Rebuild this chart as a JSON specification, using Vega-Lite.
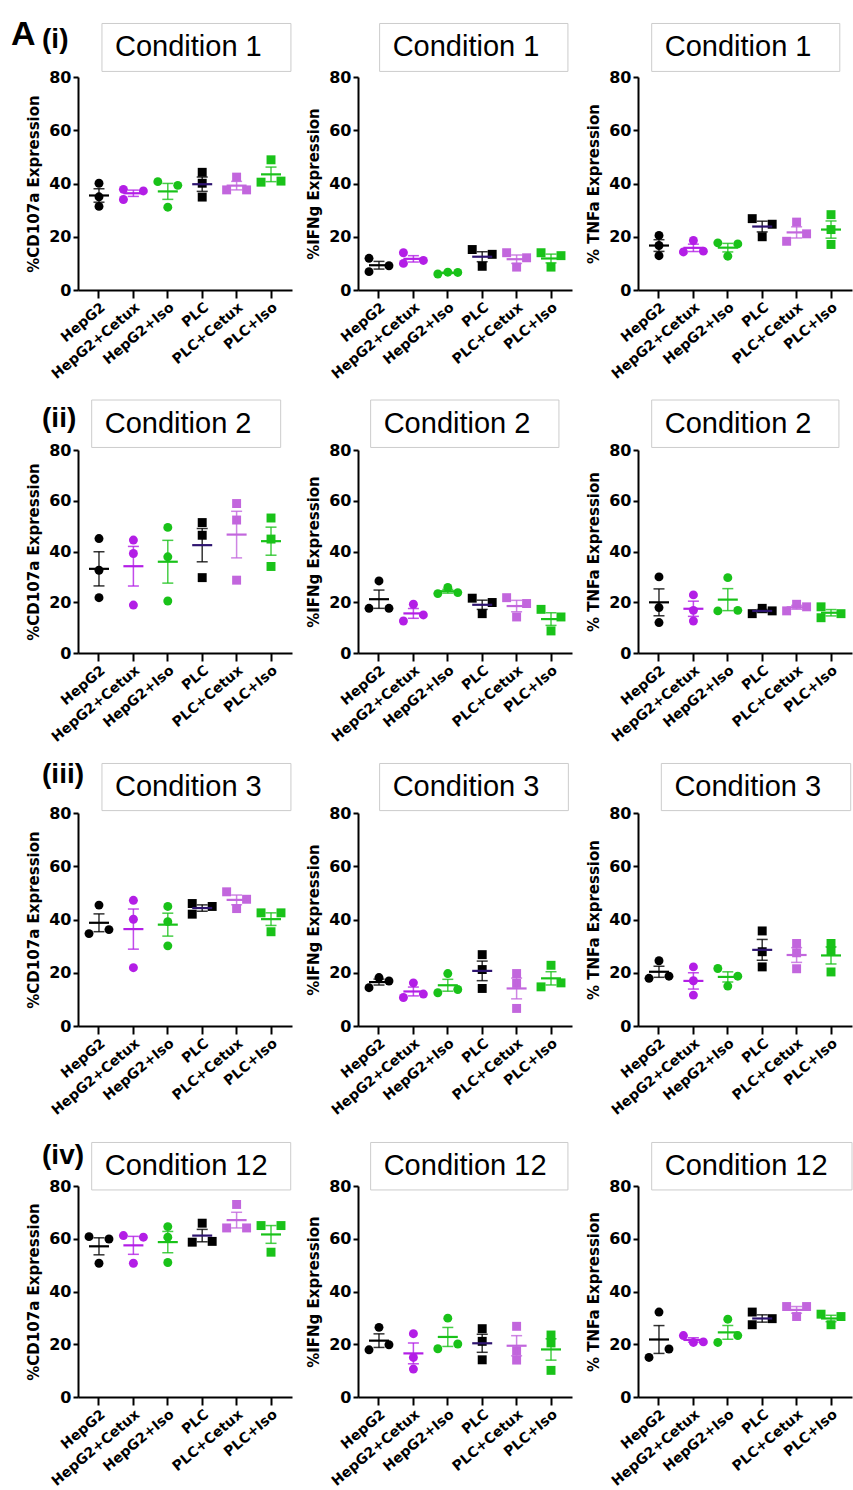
{
"$schema": "https://vega.github.io/schema/vega-lite/v6.json",
"background": "white",
"padding": {"left": 11, "top": 17, "right": 0, "bottom": 0},
"columns": 3,
"bounds": "flush",
"align": "each",
"spacing": {"row": 160, "column": 66},
"datasets": {"pts": [
{"c":"Condition 1","m":"CD107a","g":"HepG2","r":"b","v":40.1},
{"c":"Condition 1","m":"CD107a","g":"HepG2","r":"b","v":35.0},
{"c":"Condition 1","m":"CD107a","g":"HepG2","r":"b","v":31.4},
{"c":"Condition 1","m":"CD107a","g":"HepG2+Cetux","r":"a","v":37.8},
{"c":"Condition 1","m":"CD107a","g":"HepG2+Cetux","r":"a","v":34.0},
{"c":"Condition 1","m":"CD107a","g":"HepG2+Cetux","r":"c","v":37.2},
{"c":"Condition 1","m":"CD107a","g":"HepG2+Iso","r":"a","v":40.7},
{"c":"Condition 1","m":"CD107a","g":"HepG2+Iso","r":"c","v":39.3},
{"c":"Condition 1","m":"CD107a","g":"HepG2+Iso","r":"b","v":31.1},
{"c":"Condition 1","m":"CD107a","g":"PLC","r":"b","v":44.2},
{"c":"Condition 1","m":"CD107a","g":"PLC","r":"b","v":40.1},
{"c":"Condition 1","m":"CD107a","g":"PLC","r":"b","v":34.9},
{"c":"Condition 1","m":"CD107a","g":"PLC+Cetux","r":"b","v":42.4},
{"c":"Condition 1","m":"CD107a","g":"PLC+Cetux","r":"a","v":37.6},
{"c":"Condition 1","m":"CD107a","g":"PLC+Cetux","r":"c","v":37.6},
{"c":"Condition 1","m":"CD107a","g":"PLC+Iso","r":"b","v":48.9},
{"c":"Condition 1","m":"CD107a","g":"PLC+Iso","r":"a","v":40.5},
{"c":"Condition 1","m":"CD107a","g":"PLC+Iso","r":"c","v":40.9},
{"c":"Condition 1","m":"IFNg","g":"HepG2","r":"a","v":11.9},
{"c":"Condition 1","m":"IFNg","g":"HepG2","r":"a","v":6.9},
{"c":"Condition 1","m":"IFNg","g":"HepG2","r":"c","v":9.1},
{"c":"Condition 1","m":"IFNg","g":"HepG2+Cetux","r":"a","v":14.0},
{"c":"Condition 1","m":"IFNg","g":"HepG2+Cetux","r":"a","v":10.0},
{"c":"Condition 1","m":"IFNg","g":"HepG2+Cetux","r":"c","v":11.1},
{"c":"Condition 1","m":"IFNg","g":"HepG2+Iso","r":"a","v":6.0},
{"c":"Condition 1","m":"IFNg","g":"HepG2+Iso","r":"b","v":6.7},
{"c":"Condition 1","m":"IFNg","g":"HepG2+Iso","r":"c","v":6.6},
{"c":"Condition 1","m":"IFNg","g":"PLC","r":"a","v":15.2},
{"c":"Condition 1","m":"IFNg","g":"PLC","r":"c","v":13.4},
{"c":"Condition 1","m":"IFNg","g":"PLC","r":"b","v":8.9},
{"c":"Condition 1","m":"IFNg","g":"PLC+Cetux","r":"a","v":14.0},
{"c":"Condition 1","m":"IFNg","g":"PLC+Cetux","r":"c","v":12.1},
{"c":"Condition 1","m":"IFNg","g":"PLC+Cetux","r":"b","v":8.6},
{"c":"Condition 1","m":"IFNg","g":"PLC+Iso","r":"a","v":14.0},
{"c":"Condition 1","m":"IFNg","g":"PLC+Iso","r":"c","v":12.9},
{"c":"Condition 1","m":"IFNg","g":"PLC+Iso","r":"b","v":8.6},
{"c":"Condition 1","m":"TNFa","g":"HepG2","r":"b","v":20.5},
{"c":"Condition 1","m":"TNFa","g":"HepG2","r":"b","v":16.7},
{"c":"Condition 1","m":"TNFa","g":"HepG2","r":"b","v":12.9},
{"c":"Condition 1","m":"TNFa","g":"HepG2+Cetux","r":"b","v":18.6},
{"c":"Condition 1","m":"TNFa","g":"HepG2+Cetux","r":"a","v":14.3},
{"c":"Condition 1","m":"TNFa","g":"HepG2+Cetux","r":"c","v":14.6},
{"c":"Condition 1","m":"TNFa","g":"HepG2+Iso","r":"a","v":17.7},
{"c":"Condition 1","m":"TNFa","g":"HepG2+Iso","r":"c","v":17.3},
{"c":"Condition 1","m":"TNFa","g":"HepG2+Iso","r":"b","v":12.7},
{"c":"Condition 1","m":"TNFa","g":"PLC","r":"a","v":26.8},
{"c":"Condition 1","m":"TNFa","g":"PLC","r":"c","v":24.7},
{"c":"Condition 1","m":"TNFa","g":"PLC","r":"b","v":20.0},
{"c":"Condition 1","m":"TNFa","g":"PLC+Cetux","r":"b","v":25.5},
{"c":"Condition 1","m":"TNFa","g":"PLC+Cetux","r":"a","v":18.3},
{"c":"Condition 1","m":"TNFa","g":"PLC+Cetux","r":"c","v":21.1},
{"c":"Condition 1","m":"TNFa","g":"PLC+Iso","r":"b","v":28.3},
{"c":"Condition 1","m":"TNFa","g":"PLC+Iso","r":"b","v":22.7},
{"c":"Condition 1","m":"TNFa","g":"PLC+Iso","r":"b","v":17.1},
{"c":"Condition 2","m":"CD107a","g":"HepG2","r":"b","v":45.1},
{"c":"Condition 2","m":"CD107a","g":"HepG2","r":"b","v":32.6},
{"c":"Condition 2","m":"CD107a","g":"HepG2","r":"b","v":21.8},
{"c":"Condition 2","m":"CD107a","g":"HepG2+Cetux","r":"b","v":44.5},
{"c":"Condition 2","m":"CD107a","g":"HepG2+Cetux","r":"b","v":39.2},
{"c":"Condition 2","m":"CD107a","g":"HepG2+Cetux","r":"b","v":18.9},
{"c":"Condition 2","m":"CD107a","g":"HepG2+Iso","r":"b","v":49.5},
{"c":"Condition 2","m":"CD107a","g":"HepG2+Iso","r":"b","v":37.9},
{"c":"Condition 2","m":"CD107a","g":"HepG2+Iso","r":"b","v":20.5},
{"c":"Condition 2","m":"CD107a","g":"PLC","r":"b","v":51.4},
{"c":"Condition 2","m":"CD107a","g":"PLC","r":"b","v":46.4},
{"c":"Condition 2","m":"CD107a","g":"PLC","r":"b","v":29.7},
{"c":"Condition 2","m":"CD107a","g":"PLC+Cetux","r":"b","v":58.9},
{"c":"Condition 2","m":"CD107a","g":"PLC+Cetux","r":"b","v":52.4},
{"c":"Condition 2","m":"CD107a","g":"PLC+Cetux","r":"b","v":28.7},
{"c":"Condition 2","m":"CD107a","g":"PLC+Iso","r":"b","v":53.2},
{"c":"Condition 2","m":"CD107a","g":"PLC+Iso","r":"b","v":44.9},
{"c":"Condition 2","m":"CD107a","g":"PLC+Iso","r":"b","v":34.1},
{"c":"Condition 2","m":"IFNg","g":"HepG2","r":"b","v":28.4},
{"c":"Condition 2","m":"IFNg","g":"HepG2","r":"a","v":17.6},
{"c":"Condition 2","m":"IFNg","g":"HepG2","r":"c","v":17.6},
{"c":"Condition 2","m":"IFNg","g":"HepG2+Cetux","r":"b","v":19.2},
{"c":"Condition 2","m":"IFNg","g":"HepG2+Cetux","r":"a","v":12.6},
{"c":"Condition 2","m":"IFNg","g":"HepG2+Cetux","r":"c","v":15.0},
{"c":"Condition 2","m":"IFNg","g":"HepG2+Iso","r":"a","v":23.4},
{"c":"Condition 2","m":"IFNg","g":"HepG2+Iso","r":"b","v":25.8},
{"c":"Condition 2","m":"IFNg","g":"HepG2+Iso","r":"c","v":23.8},
{"c":"Condition 2","m":"IFNg","g":"PLC","r":"a","v":21.6},
{"c":"Condition 2","m":"IFNg","g":"PLC","r":"c","v":19.9},
{"c":"Condition 2","m":"IFNg","g":"PLC","r":"b","v":15.5},
{"c":"Condition 2","m":"IFNg","g":"PLC+Cetux","r":"a","v":21.8},
{"c":"Condition 2","m":"IFNg","g":"PLC+Cetux","r":"c","v":19.5},
{"c":"Condition 2","m":"IFNg","g":"PLC+Cetux","r":"b","v":14.2},
{"c":"Condition 2","m":"IFNg","g":"PLC+Iso","r":"a","v":17.2},
{"c":"Condition 2","m":"IFNg","g":"PLC+Iso","r":"c","v":14.2},
{"c":"Condition 2","m":"IFNg","g":"PLC+Iso","r":"b","v":8.7},
{"c":"Condition 2","m":"TNFa","g":"HepG2","r":"b","v":30.0},
{"c":"Condition 2","m":"TNFa","g":"HepG2","r":"b","v":17.9},
{"c":"Condition 2","m":"TNFa","g":"HepG2","r":"b","v":12.0},
{"c":"Condition 2","m":"TNFa","g":"HepG2+Cetux","r":"b","v":22.9},
{"c":"Condition 2","m":"TNFa","g":"HepG2+Cetux","r":"b","v":16.8},
{"c":"Condition 2","m":"TNFa","g":"HepG2+Cetux","r":"b","v":12.6},
{"c":"Condition 2","m":"TNFa","g":"HepG2+Iso","r":"b","v":29.7},
{"c":"Condition 2","m":"TNFa","g":"HepG2+Iso","r":"a","v":16.6},
{"c":"Condition 2","m":"TNFa","g":"HepG2+Iso","r":"c","v":16.8},
{"c":"Condition 2","m":"TNFa","g":"PLC","r":"a","v":15.5},
{"c":"Condition 2","m":"TNFa","g":"PLC","r":"b","v":17.6},
{"c":"Condition 2","m":"TNFa","g":"PLC","r":"c","v":16.6},
{"c":"Condition 2","m":"TNFa","g":"PLC+Cetux","r":"a","v":16.6},
{"c":"Condition 2","m":"TNFa","g":"PLC+Cetux","r":"b","v":19.2},
{"c":"Condition 2","m":"TNFa","g":"PLC+Cetux","r":"c","v":18.2},
{"c":"Condition 2","m":"TNFa","g":"PLC+Iso","r":"a","v":18.2},
{"c":"Condition 2","m":"TNFa","g":"PLC+Iso","r":"a","v":13.9},
{"c":"Condition 2","m":"TNFa","g":"PLC+Iso","r":"c","v":15.5},
{"c":"Condition 3","m":"CD107a","g":"HepG2","r":"b","v":45.4},
{"c":"Condition 3","m":"CD107a","g":"HepG2","r":"a","v":34.7},
{"c":"Condition 3","m":"CD107a","g":"HepG2","r":"c","v":36.2},
{"c":"Condition 3","m":"CD107a","g":"HepG2+Cetux","r":"b","v":47.2},
{"c":"Condition 3","m":"CD107a","g":"HepG2+Cetux","r":"b","v":40.1},
{"c":"Condition 3","m":"CD107a","g":"HepG2+Cetux","r":"b","v":21.9},
{"c":"Condition 3","m":"CD107a","g":"HepG2+Iso","r":"b","v":44.9},
{"c":"Condition 3","m":"CD107a","g":"HepG2+Iso","r":"b","v":39.2},
{"c":"Condition 3","m":"CD107a","g":"HepG2+Iso","r":"b","v":30.1},
{"c":"Condition 3","m":"CD107a","g":"PLC","r":"a","v":46.0},
{"c":"Condition 3","m":"CD107a","g":"PLC","r":"a","v":42.0},
{"c":"Condition 3","m":"CD107a","g":"PLC","r":"c","v":44.9},
{"c":"Condition 3","m":"CD107a","g":"PLC+Cetux","r":"a","v":50.4},
{"c":"Condition 3","m":"CD107a","g":"PLC+Cetux","r":"c","v":47.6},
{"c":"Condition 3","m":"CD107a","g":"PLC+Cetux","r":"b","v":44.1},
{"c":"Condition 3","m":"CD107a","g":"PLC+Iso","r":"a","v":42.5},
{"c":"Condition 3","m":"CD107a","g":"PLC+Iso","r":"c","v":42.5},
{"c":"Condition 3","m":"CD107a","g":"PLC+Iso","r":"b","v":35.4},
{"c":"Condition 3","m":"IFNg","g":"HepG2","r":"a","v":14.4},
{"c":"Condition 3","m":"IFNg","g":"HepG2","r":"b","v":18.2},
{"c":"Condition 3","m":"IFNg","g":"HepG2","r":"c","v":16.9},
{"c":"Condition 3","m":"IFNg","g":"HepG2+Cetux","r":"b","v":16.2},
{"c":"Condition 3","m":"IFNg","g":"HepG2+Cetux","r":"a","v":10.7},
{"c":"Condition 3","m":"IFNg","g":"HepG2+Cetux","r":"c","v":12.0},
{"c":"Condition 3","m":"IFNg","g":"HepG2+Iso","r":"b","v":19.7},
{"c":"Condition 3","m":"IFNg","g":"HepG2+Iso","r":"a","v":12.5},
{"c":"Condition 3","m":"IFNg","g":"HepG2+Iso","r":"c","v":13.7},
{"c":"Condition 3","m":"IFNg","g":"PLC","r":"b","v":26.8},
{"c":"Condition 3","m":"IFNg","g":"PLC","r":"b","v":21.2},
{"c":"Condition 3","m":"IFNg","g":"PLC","r":"b","v":14.1},
{"c":"Condition 3","m":"IFNg","g":"PLC+Cetux","r":"b","v":19.7},
{"c":"Condition 3","m":"IFNg","g":"PLC+Cetux","r":"b","v":16.0},
{"c":"Condition 3","m":"IFNg","g":"PLC+Cetux","r":"b","v":6.6},
{"c":"Condition 3","m":"IFNg","g":"PLC+Iso","r":"b","v":22.8},
{"c":"Condition 3","m":"IFNg","g":"PLC+Iso","r":"a","v":14.7},
{"c":"Condition 3","m":"IFNg","g":"PLC+Iso","r":"c","v":16.2},
{"c":"Condition 3","m":"TNFa","g":"HepG2","r":"b","v":24.5},
{"c":"Condition 3","m":"TNFa","g":"HepG2","r":"a","v":17.9},
{"c":"Condition 3","m":"TNFa","g":"HepG2","r":"c","v":18.7},
{"c":"Condition 3","m":"TNFa","g":"HepG2+Cetux","r":"b","v":22.2},
{"c":"Condition 3","m":"TNFa","g":"HepG2+Cetux","r":"b","v":17.0},
{"c":"Condition 3","m":"TNFa","g":"HepG2+Cetux","r":"b","v":11.6},
{"c":"Condition 3","m":"TNFa","g":"HepG2+Iso","r":"a","v":21.6},
{"c":"Condition 3","m":"TNFa","g":"HepG2+Iso","r":"c","v":18.7},
{"c":"Condition 3","m":"TNFa","g":"HepG2+Iso","r":"b","v":15.0},
{"c":"Condition 3","m":"TNFa","g":"PLC","r":"b","v":35.7},
{"c":"Condition 3","m":"TNFa","g":"PLC","r":"b","v":27.9},
{"c":"Condition 3","m":"TNFa","g":"PLC","r":"b","v":22.2},
{"c":"Condition 3","m":"TNFa","g":"PLC+Cetux","r":"b","v":31.0},
{"c":"Condition 3","m":"TNFa","g":"PLC+Cetux","r":"b","v":27.5},
{"c":"Condition 3","m":"TNFa","g":"PLC+Cetux","r":"b","v":21.5},
{"c":"Condition 3","m":"TNFa","g":"PLC+Iso","r":"b","v":31.0},
{"c":"Condition 3","m":"TNFa","g":"PLC+Iso","r":"b","v":28.2},
{"c":"Condition 3","m":"TNFa","g":"PLC+Iso","r":"b","v":20.3},
{"c":"Condition 12","m":"CD107a","g":"HepG2","r":"a","v":60.8},
{"c":"Condition 12","m":"CD107a","g":"HepG2","r":"c","v":59.9},
{"c":"Condition 12","m":"CD107a","g":"HepG2","r":"b","v":50.7},
{"c":"Condition 12","m":"CD107a","g":"HepG2+Cetux","r":"a","v":61.2},
{"c":"Condition 12","m":"CD107a","g":"HepG2+Cetux","r":"c","v":60.6},
{"c":"Condition 12","m":"CD107a","g":"HepG2+Cetux","r":"b","v":50.7},
{"c":"Condition 12","m":"CD107a","g":"HepG2+Iso","r":"b","v":64.6},
{"c":"Condition 12","m":"CD107a","g":"HepG2+Iso","r":"b","v":60.6},
{"c":"Condition 12","m":"CD107a","g":"HepG2+Iso","r":"b","v":51.0},
{"c":"Condition 12","m":"CD107a","g":"PLC","r":"b","v":65.9},
{"c":"Condition 12","m":"CD107a","g":"PLC","r":"a","v":58.7},
{"c":"Condition 12","m":"CD107a","g":"PLC","r":"c","v":59.0},
{"c":"Condition 12","m":"CD107a","g":"PLC+Cetux","r":"b","v":73.0},
{"c":"Condition 12","m":"CD107a","g":"PLC+Cetux","r":"a","v":64.1},
{"c":"Condition 12","m":"CD107a","g":"PLC+Cetux","r":"c","v":64.1},
{"c":"Condition 12","m":"CD107a","g":"PLC+Iso","r":"a","v":65.0},
{"c":"Condition 12","m":"CD107a","g":"PLC+Iso","r":"c","v":65.0},
{"c":"Condition 12","m":"CD107a","g":"PLC+Iso","r":"b","v":54.9},
{"c":"Condition 12","m":"IFNg","g":"HepG2","r":"b","v":26.4},
{"c":"Condition 12","m":"IFNg","g":"HepG2","r":"a","v":17.9},
{"c":"Condition 12","m":"IFNg","g":"HepG2","r":"c","v":19.8},
{"c":"Condition 12","m":"IFNg","g":"HepG2+Cetux","r":"b","v":24.0},
{"c":"Condition 12","m":"IFNg","g":"HepG2+Cetux","r":"b","v":15.0},
{"c":"Condition 12","m":"IFNg","g":"HepG2+Cetux","r":"b","v":10.6},
{"c":"Condition 12","m":"IFNg","g":"HepG2+Iso","r":"b","v":29.9},
{"c":"Condition 12","m":"IFNg","g":"HepG2+Iso","r":"a","v":18.3},
{"c":"Condition 12","m":"IFNg","g":"HepG2+Iso","r":"c","v":20.1},
{"c":"Condition 12","m":"IFNg","g":"PLC","r":"b","v":25.9},
{"c":"Condition 12","m":"IFNg","g":"PLC","r":"b","v":21.1},
{"c":"Condition 12","m":"IFNg","g":"PLC","r":"b","v":14.1},
{"c":"Condition 12","m":"IFNg","g":"PLC+Cetux","r":"b","v":26.8},
{"c":"Condition 12","m":"IFNg","g":"PLC+Cetux","r":"b","v":17.5},
{"c":"Condition 12","m":"IFNg","g":"PLC+Cetux","r":"b","v":14.0},
{"c":"Condition 12","m":"IFNg","g":"PLC+Iso","r":"b","v":23.5},
{"c":"Condition 12","m":"IFNg","g":"PLC+Iso","r":"b","v":20.5},
{"c":"Condition 12","m":"IFNg","g":"PLC+Iso","r":"b","v":10.1},
{"c":"Condition 12","m":"TNFa","g":"HepG2","r":"b","v":32.2},
{"c":"Condition 12","m":"TNFa","g":"HepG2","r":"c","v":18.2},
{"c":"Condition 12","m":"TNFa","g":"HepG2","r":"a","v":15.0},
{"c":"Condition 12","m":"TNFa","g":"HepG2+Cetux","r":"a","v":23.3},
{"c":"Condition 12","m":"TNFa","g":"HepG2+Cetux","r":"b","v":20.7},
{"c":"Condition 12","m":"TNFa","g":"HepG2+Cetux","r":"c","v":20.9},
{"c":"Condition 12","m":"TNFa","g":"HepG2+Iso","r":"b","v":29.5},
{"c":"Condition 12","m":"TNFa","g":"HepG2+Iso","r":"a","v":20.7},
{"c":"Condition 12","m":"TNFa","g":"HepG2+Iso","r":"c","v":23.3},
{"c":"Condition 12","m":"TNFa","g":"PLC","r":"a","v":32.2},
{"c":"Condition 12","m":"TNFa","g":"PLC","r":"a","v":27.4},
{"c":"Condition 12","m":"TNFa","g":"PLC","r":"c","v":29.7},
{"c":"Condition 12","m":"TNFa","g":"PLC+Cetux","r":"a","v":34.3},
{"c":"Condition 12","m":"TNFa","g":"PLC+Cetux","r":"c","v":34.3},
{"c":"Condition 12","m":"TNFa","g":"PLC+Cetux","r":"b","v":30.5},
{"c":"Condition 12","m":"TNFa","g":"PLC+Iso","r":"a","v":31.4},
{"c":"Condition 12","m":"TNFa","g":"PLC+Iso","r":"c","v":30.5},
{"c":"Condition 12","m":"TNFa","g":"PLC+Iso","r":"b","v":27.4}
]},
"concat": [
{"width":214,"height":213,"resolve":{"scale":{"x":"independent","y":"independent"}},"layer":[
 {"data":{"name":"pts"},"transform":[{"filter":"datum.c === 'Condition 1' && datum.m === 'CD107a'"}],
  "encoding":{"x":{"field":"g","type":"nominal","scale":{"type":"band","domain":["HepG2","HepG2+Cetux","HepG2+Iso","PLC","PLC+Cetux","PLC+Iso"],"paddingInner":0.42,"paddingOuter":0.32},"axis":{"title":null}},
   "y":{"field":"v","type":"quantitative","title":"%CD107a Expression","scale":{"domain":[0,80],"nice":false},"axis":{"values":[0,20,40,60,80]}}},
  "layer":[
   {"mark":{"type":"point","filled":true,"size":80,"opacity":1},"encoding":{"xOffset":{"field":"r","type":"nominal","scale":{"domain":["a","b","c"],"paddingInner":0,"paddingOuter":0}},"color":{"field":"g","type":"nominal","scale":{"domain":["HepG2","HepG2+Cetux","HepG2+Iso","PLC","PLC+Cetux","PLC+Iso"],"range":["#000000","#b31ee6","#19c219","#000000","#c266dd","#19c219"]},"legend":null},"shape":{"field":"g","type":"nominal","scale":{"domain":["HepG2","HepG2+Cetux","HepG2+Iso","PLC","PLC+Cetux","PLC+Iso"],"range":["circle","circle","circle","square","square","square"]},"legend":null}}},
   {"mark":{"type":"errorbar","extent":"stderr","ticks":true,"size":11,"thickness":1.5,"opacity":0.8},"encoding":{"color":{"field":"g","type":"nominal","scale":{"domain":["HepG2","HepG2+Cetux","HepG2+Iso","PLC","PLC+Cetux","PLC+Iso"],"range":["#000000","#b31ee6","#19c219","#000000","#c266dd","#19c219"]},"legend":null}}},
   {"mark":{"type":"tick","size":20,"thickness":2.2},"encoding":{"y":{"aggregate":"mean","field":"v","type":"quantitative","title":"%CD107a Expression","scale":{"domain":[0,80],"nice":false},"axis":{"values":[0,20,40,60,80]}},"color":{"condition":{"test":"datum.g === 'PLC'","value":"#2e1470"},"field":"g","type":"nominal","scale":{"domain":["HepG2","HepG2+Cetux","HepG2+Iso","PLC","PLC+Cetux","PLC+Iso"],"range":["#000000","#b31ee6","#19c219","#000000","#c266dd","#19c219"]},"legend":null}}}
  ]},
 {"data":{"values":[{"t":"Condition 1"}]},
  "encoding":{"x":{"datum":0.112,"type":"quantitative","scale":{"domain":[0,1],"nice":false,"zero":false},"axis":null},"y":{"datum":82.1,"type":"quantitative","scale":{"domain":[0,80],"nice":false,"zero":false},"axis":null}},
  "layer":[
   {"mark":{"type":"rect","fill":"#ffffff","stroke":"#cccccc","strokeWidth":1},"encoding":{"x2":{"datum":0.995},"y2":{"datum":100.1}}},
   {"mark":{"type":"text","font":"Liberation Sans","fontSize":29,"align":"left","baseline":"middle","color":"#000000"},"encoding":{"x":{"datum":0.173,"type":"quantitative","axis":null},"y":{"datum":91.1,"type":"quantitative","axis":null},"text":{"field":"t"}}},
   {"mark":{"type":"text","text":"A","font":"Liberation Sans","fontWeight":"bold","fontSize":34,"align":"left","baseline":"middle","color":"#000000"},"encoding":{"x":{"datum":-0.313,"type":"quantitative","axis":null},"y":{"datum":95.9,"type":"quantitative","axis":null}}},
   {"mark":{"type":"text","text":"(i)","font":"Liberation Sans","fontWeight":"bold","fontSize":28,"align":"left","baseline":"middle","color":"#000000"},"encoding":{"x":{"datum":-0.168,"type":"quantitative","axis":null},"y":{"datum":94,"type":"quantitative","axis":null}}}
  ]}
]},
{"width":214,"height":213,"resolve":{"scale":{"x":"independent","y":"independent"}},"layer":[
 {"data":{"name":"pts"},"transform":[{"filter":"datum.c === 'Condition 1' && datum.m === 'IFNg'"}],
  "encoding":{"x":{"field":"g","type":"nominal","scale":{"type":"band","domain":["HepG2","HepG2+Cetux","HepG2+Iso","PLC","PLC+Cetux","PLC+Iso"],"paddingInner":0.42,"paddingOuter":0.32},"axis":{"title":null}},
   "y":{"field":"v","type":"quantitative","title":"%IFNg Expression","scale":{"domain":[0,80],"nice":false},"axis":{"values":[0,20,40,60,80]}}},
  "layer":[
   {"mark":{"type":"point","filled":true,"size":80,"opacity":1},"encoding":{"xOffset":{"field":"r","type":"nominal","scale":{"domain":["a","b","c"],"paddingInner":0,"paddingOuter":0}},"color":{"field":"g","type":"nominal","scale":{"domain":["HepG2","HepG2+Cetux","HepG2+Iso","PLC","PLC+Cetux","PLC+Iso"],"range":["#000000","#b31ee6","#19c219","#000000","#c266dd","#19c219"]},"legend":null},"shape":{"field":"g","type":"nominal","scale":{"domain":["HepG2","HepG2+Cetux","HepG2+Iso","PLC","PLC+Cetux","PLC+Iso"],"range":["circle","circle","circle","square","square","square"]},"legend":null}}},
   {"mark":{"type":"errorbar","extent":"stderr","ticks":true,"size":11,"thickness":1.5,"opacity":0.8},"encoding":{"color":{"field":"g","type":"nominal","scale":{"domain":["HepG2","HepG2+Cetux","HepG2+Iso","PLC","PLC+Cetux","PLC+Iso"],"range":["#000000","#b31ee6","#19c219","#000000","#c266dd","#19c219"]},"legend":null}}},
   {"mark":{"type":"tick","size":20,"thickness":2.2},"encoding":{"y":{"aggregate":"mean","field":"v","type":"quantitative","title":"%IFNg Expression","scale":{"domain":[0,80],"nice":false},"axis":{"values":[0,20,40,60,80]}},"color":{"condition":{"test":"datum.g === 'PLC'","value":"#2e1470"},"field":"g","type":"nominal","scale":{"domain":["HepG2","HepG2+Cetux","HepG2+Iso","PLC","PLC+Cetux","PLC+Iso"],"range":["#000000","#b31ee6","#19c219","#000000","#c266dd","#19c219"]},"legend":null}}}
  ]},
 {"data":{"values":[{"t":"Condition 1"}]},
  "encoding":{"x":{"datum":0.101,"type":"quantitative","scale":{"domain":[0,1],"nice":false,"zero":false},"axis":null},"y":{"datum":82.1,"type":"quantitative","scale":{"domain":[0,80],"nice":false,"zero":false},"axis":null}},
  "layer":[
   {"mark":{"type":"rect","fill":"#ffffff","stroke":"#cccccc","strokeWidth":1},"encoding":{"x2":{"datum":0.981},"y2":{"datum":100.1}}},
   {"mark":{"type":"text","font":"Liberation Sans","fontSize":29,"align":"left","baseline":"middle","color":"#000000"},"encoding":{"x":{"datum":0.162,"type":"quantitative","axis":null},"y":{"datum":91.1,"type":"quantitative","axis":null},"text":{"field":"t"}}}
  ]}
]},
{"width":214,"height":213,"resolve":{"scale":{"x":"independent","y":"independent"}},"layer":[
 {"data":{"name":"pts"},"transform":[{"filter":"datum.c === 'Condition 1' && datum.m === 'TNFa'"}],
  "encoding":{"x":{"field":"g","type":"nominal","scale":{"type":"band","domain":["HepG2","HepG2+Cetux","HepG2+Iso","PLC","PLC+Cetux","PLC+Iso"],"paddingInner":0.42,"paddingOuter":0.32},"axis":{"title":null}},
   "y":{"field":"v","type":"quantitative","title":"% TNFa Expression","scale":{"domain":[0,80],"nice":false},"axis":{"values":[0,20,40,60,80]}}},
  "layer":[
   {"mark":{"type":"point","filled":true,"size":80,"opacity":1},"encoding":{"xOffset":{"field":"r","type":"nominal","scale":{"domain":["a","b","c"],"paddingInner":0,"paddingOuter":0}},"color":{"field":"g","type":"nominal","scale":{"domain":["HepG2","HepG2+Cetux","HepG2+Iso","PLC","PLC+Cetux","PLC+Iso"],"range":["#000000","#b31ee6","#19c219","#000000","#c266dd","#19c219"]},"legend":null},"shape":{"field":"g","type":"nominal","scale":{"domain":["HepG2","HepG2+Cetux","HepG2+Iso","PLC","PLC+Cetux","PLC+Iso"],"range":["circle","circle","circle","square","square","square"]},"legend":null}}},
   {"mark":{"type":"errorbar","extent":"stderr","ticks":true,"size":11,"thickness":1.5,"opacity":0.8},"encoding":{"color":{"field":"g","type":"nominal","scale":{"domain":["HepG2","HepG2+Cetux","HepG2+Iso","PLC","PLC+Cetux","PLC+Iso"],"range":["#000000","#b31ee6","#19c219","#000000","#c266dd","#19c219"]},"legend":null}}},
   {"mark":{"type":"tick","size":20,"thickness":2.2},"encoding":{"y":{"aggregate":"mean","field":"v","type":"quantitative","title":"% TNFa Expression","scale":{"domain":[0,80],"nice":false},"axis":{"values":[0,20,40,60,80]}},"color":{"condition":{"test":"datum.g === 'PLC'","value":"#2e1470"},"field":"g","type":"nominal","scale":{"domain":["HepG2","HepG2+Cetux","HepG2+Iso","PLC","PLC+Cetux","PLC+Iso"],"range":["#000000","#b31ee6","#19c219","#000000","#c266dd","#19c219"]},"legend":null}}}
  ]},
 {"data":{"values":[{"t":"Condition 1"}]},
  "encoding":{"x":{"datum":0.064,"type":"quantitative","scale":{"domain":[0,1],"nice":false,"zero":false},"axis":null},"y":{"datum":82.1,"type":"quantitative","scale":{"domain":[0,80],"nice":false,"zero":false},"axis":null}},
  "layer":[
   {"mark":{"type":"rect","fill":"#ffffff","stroke":"#cccccc","strokeWidth":1},"encoding":{"x2":{"datum":0.943},"y2":{"datum":100.1}}},
   {"mark":{"type":"text","font":"Liberation Sans","fontSize":29,"align":"left","baseline":"middle","color":"#000000"},"encoding":{"x":{"datum":0.125,"type":"quantitative","axis":null},"y":{"datum":91.1,"type":"quantitative","axis":null},"text":{"field":"t"}}}
  ]}
]},
{"width":214,"height":203,"resolve":{"scale":{"x":"independent","y":"independent"}},"layer":[
 {"data":{"name":"pts"},"transform":[{"filter":"datum.c === 'Condition 2' && datum.m === 'CD107a'"}],
  "encoding":{"x":{"field":"g","type":"nominal","scale":{"type":"band","domain":["HepG2","HepG2+Cetux","HepG2+Iso","PLC","PLC+Cetux","PLC+Iso"],"paddingInner":0.42,"paddingOuter":0.32},"axis":{"title":null}},
   "y":{"field":"v","type":"quantitative","title":"%CD107a Expression","scale":{"domain":[0,80],"nice":false},"axis":{"values":[0,20,40,60,80]}}},
  "layer":[
   {"mark":{"type":"point","filled":true,"size":80,"opacity":1},"encoding":{"xOffset":{"field":"r","type":"nominal","scale":{"domain":["a","b","c"],"paddingInner":0,"paddingOuter":0}},"color":{"field":"g","type":"nominal","scale":{"domain":["HepG2","HepG2+Cetux","HepG2+Iso","PLC","PLC+Cetux","PLC+Iso"],"range":["#000000","#b31ee6","#19c219","#000000","#c266dd","#19c219"]},"legend":null},"shape":{"field":"g","type":"nominal","scale":{"domain":["HepG2","HepG2+Cetux","HepG2+Iso","PLC","PLC+Cetux","PLC+Iso"],"range":["circle","circle","circle","square","square","square"]},"legend":null}}},
   {"mark":{"type":"errorbar","extent":"stderr","ticks":true,"size":11,"thickness":1.5,"opacity":0.8},"encoding":{"color":{"field":"g","type":"nominal","scale":{"domain":["HepG2","HepG2+Cetux","HepG2+Iso","PLC","PLC+Cetux","PLC+Iso"],"range":["#000000","#b31ee6","#19c219","#000000","#c266dd","#19c219"]},"legend":null}}},
   {"mark":{"type":"tick","size":20,"thickness":2.2},"encoding":{"y":{"aggregate":"mean","field":"v","type":"quantitative","title":"%CD107a Expression","scale":{"domain":[0,80],"nice":false},"axis":{"values":[0,20,40,60,80]}},"color":{"condition":{"test":"datum.g === 'PLC'","value":"#2e1470"},"field":"g","type":"nominal","scale":{"domain":["HepG2","HepG2+Cetux","HepG2+Iso","PLC","PLC+Cetux","PLC+Iso"],"range":["#000000","#b31ee6","#19c219","#000000","#c266dd","#19c219"]},"legend":null}}}
  ]},
 {"data":{"values":[{"t":"Condition 2"}]},
  "encoding":{"x":{"datum":0.064,"type":"quantitative","scale":{"domain":[0,1],"nice":false,"zero":false},"axis":null},"y":{"datum":81.0,"type":"quantitative","scale":{"domain":[0,80],"nice":false,"zero":false},"axis":null}},
  "layer":[
   {"mark":{"type":"rect","fill":"#ffffff","stroke":"#cccccc","strokeWidth":1},"encoding":{"x2":{"datum":0.947},"y2":{"datum":99.7}}},
   {"mark":{"type":"text","font":"Liberation Sans","fontSize":29,"align":"left","baseline":"middle","color":"#000000"},"encoding":{"x":{"datum":0.125,"type":"quantitative","axis":null},"y":{"datum":90.35,"type":"quantitative","axis":null},"text":{"field":"t"}}},
   {"mark":{"type":"text","text":"(ii)","font":"Liberation Sans","fontWeight":"bold","fontSize":28,"align":"left","baseline":"middle","color":"#000000"},"encoding":{"x":{"datum":-0.168,"type":"quantitative","axis":null},"y":{"datum":92.1,"type":"quantitative","axis":null}}}
  ]}
]},
{"width":214,"height":203,"resolve":{"scale":{"x":"independent","y":"independent"}},"layer":[
 {"data":{"name":"pts"},"transform":[{"filter":"datum.c === 'Condition 2' && datum.m === 'IFNg'"}],
  "encoding":{"x":{"field":"g","type":"nominal","scale":{"type":"band","domain":["HepG2","HepG2+Cetux","HepG2+Iso","PLC","PLC+Cetux","PLC+Iso"],"paddingInner":0.42,"paddingOuter":0.32},"axis":{"title":null}},
   "y":{"field":"v","type":"quantitative","title":"%IFNg Expression","scale":{"domain":[0,80],"nice":false},"axis":{"values":[0,20,40,60,80]}}},
  "layer":[
   {"mark":{"type":"point","filled":true,"size":80,"opacity":1},"encoding":{"xOffset":{"field":"r","type":"nominal","scale":{"domain":["a","b","c"],"paddingInner":0,"paddingOuter":0}},"color":{"field":"g","type":"nominal","scale":{"domain":["HepG2","HepG2+Cetux","HepG2+Iso","PLC","PLC+Cetux","PLC+Iso"],"range":["#000000","#b31ee6","#19c219","#000000","#c266dd","#19c219"]},"legend":null},"shape":{"field":"g","type":"nominal","scale":{"domain":["HepG2","HepG2+Cetux","HepG2+Iso","PLC","PLC+Cetux","PLC+Iso"],"range":["circle","circle","circle","square","square","square"]},"legend":null}}},
   {"mark":{"type":"errorbar","extent":"stderr","ticks":true,"size":11,"thickness":1.5,"opacity":0.8},"encoding":{"color":{"field":"g","type":"nominal","scale":{"domain":["HepG2","HepG2+Cetux","HepG2+Iso","PLC","PLC+Cetux","PLC+Iso"],"range":["#000000","#b31ee6","#19c219","#000000","#c266dd","#19c219"]},"legend":null}}},
   {"mark":{"type":"tick","size":20,"thickness":2.2},"encoding":{"y":{"aggregate":"mean","field":"v","type":"quantitative","title":"%IFNg Expression","scale":{"domain":[0,80],"nice":false},"axis":{"values":[0,20,40,60,80]}},"color":{"condition":{"test":"datum.g === 'PLC'","value":"#2e1470"},"field":"g","type":"nominal","scale":{"domain":["HepG2","HepG2+Cetux","HepG2+Iso","PLC","PLC+Cetux","PLC+Iso"],"range":["#000000","#b31ee6","#19c219","#000000","#c266dd","#19c219"]},"legend":null}}}
  ]},
 {"data":{"values":[{"t":"Condition 2"}]},
  "encoding":{"x":{"datum":0.059,"type":"quantitative","scale":{"domain":[0,1],"nice":false,"zero":false},"axis":null},"y":{"datum":81.0,"type":"quantitative","scale":{"domain":[0,80],"nice":false,"zero":false},"axis":null}},
  "layer":[
   {"mark":{"type":"rect","fill":"#ffffff","stroke":"#cccccc","strokeWidth":1},"encoding":{"x2":{"datum":0.939},"y2":{"datum":99.7}}},
   {"mark":{"type":"text","font":"Liberation Sans","fontSize":29,"align":"left","baseline":"middle","color":"#000000"},"encoding":{"x":{"datum":0.12,"type":"quantitative","axis":null},"y":{"datum":90.35,"type":"quantitative","axis":null},"text":{"field":"t"}}}
  ]}
]},
{"width":214,"height":203,"resolve":{"scale":{"x":"independent","y":"independent"}},"layer":[
 {"data":{"name":"pts"},"transform":[{"filter":"datum.c === 'Condition 2' && datum.m === 'TNFa'"}],
  "encoding":{"x":{"field":"g","type":"nominal","scale":{"type":"band","domain":["HepG2","HepG2+Cetux","HepG2+Iso","PLC","PLC+Cetux","PLC+Iso"],"paddingInner":0.42,"paddingOuter":0.32},"axis":{"title":null}},
   "y":{"field":"v","type":"quantitative","title":"% TNFa Expression","scale":{"domain":[0,80],"nice":false},"axis":{"values":[0,20,40,60,80]}}},
  "layer":[
   {"mark":{"type":"point","filled":true,"size":80,"opacity":1},"encoding":{"xOffset":{"field":"r","type":"nominal","scale":{"domain":["a","b","c"],"paddingInner":0,"paddingOuter":0}},"color":{"field":"g","type":"nominal","scale":{"domain":["HepG2","HepG2+Cetux","HepG2+Iso","PLC","PLC+Cetux","PLC+Iso"],"range":["#000000","#b31ee6","#19c219","#000000","#c266dd","#19c219"]},"legend":null},"shape":{"field":"g","type":"nominal","scale":{"domain":["HepG2","HepG2+Cetux","HepG2+Iso","PLC","PLC+Cetux","PLC+Iso"],"range":["circle","circle","circle","square","square","square"]},"legend":null}}},
   {"mark":{"type":"errorbar","extent":"stderr","ticks":true,"size":11,"thickness":1.5,"opacity":0.8},"encoding":{"color":{"field":"g","type":"nominal","scale":{"domain":["HepG2","HepG2+Cetux","HepG2+Iso","PLC","PLC+Cetux","PLC+Iso"],"range":["#000000","#b31ee6","#19c219","#000000","#c266dd","#19c219"]},"legend":null}}},
   {"mark":{"type":"tick","size":20,"thickness":2.2},"encoding":{"y":{"aggregate":"mean","field":"v","type":"quantitative","title":"% TNFa Expression","scale":{"domain":[0,80],"nice":false},"axis":{"values":[0,20,40,60,80]}},"color":{"condition":{"test":"datum.g === 'PLC'","value":"#2e1470"},"field":"g","type":"nominal","scale":{"domain":["HepG2","HepG2+Cetux","HepG2+Iso","PLC","PLC+Cetux","PLC+Iso"],"range":["#000000","#b31ee6","#19c219","#000000","#c266dd","#19c219"]},"legend":null}}}
  ]},
 {"data":{"values":[{"t":"Condition 2"}]},
  "encoding":{"x":{"datum":0.064,"type":"quantitative","scale":{"domain":[0,1],"nice":false,"zero":false},"axis":null},"y":{"datum":81.0,"type":"quantitative","scale":{"domain":[0,80],"nice":false,"zero":false},"axis":null}},
  "layer":[
   {"mark":{"type":"rect","fill":"#ffffff","stroke":"#cccccc","strokeWidth":1},"encoding":{"x2":{"datum":0.939},"y2":{"datum":99.7}}},
   {"mark":{"type":"text","font":"Liberation Sans","fontSize":29,"align":"left","baseline":"middle","color":"#000000"},"encoding":{"x":{"datum":0.125,"type":"quantitative","axis":null},"y":{"datum":90.35,"type":"quantitative","axis":null},"text":{"field":"t"}}}
  ]}
]},
{"width":214,"height":213,"resolve":{"scale":{"x":"independent","y":"independent"}},"layer":[
 {"data":{"name":"pts"},"transform":[{"filter":"datum.c === 'Condition 3' && datum.m === 'CD107a'"}],
  "encoding":{"x":{"field":"g","type":"nominal","scale":{"type":"band","domain":["HepG2","HepG2+Cetux","HepG2+Iso","PLC","PLC+Cetux","PLC+Iso"],"paddingInner":0.42,"paddingOuter":0.32},"axis":{"title":null}},
   "y":{"field":"v","type":"quantitative","title":"%CD107a Expression","scale":{"domain":[0,80],"nice":false},"axis":{"values":[0,20,40,60,80]}}},
  "layer":[
   {"mark":{"type":"point","filled":true,"size":80,"opacity":1},"encoding":{"xOffset":{"field":"r","type":"nominal","scale":{"domain":["a","b","c"],"paddingInner":0,"paddingOuter":0}},"color":{"field":"g","type":"nominal","scale":{"domain":["HepG2","HepG2+Cetux","HepG2+Iso","PLC","PLC+Cetux","PLC+Iso"],"range":["#000000","#b31ee6","#19c219","#000000","#c266dd","#19c219"]},"legend":null},"shape":{"field":"g","type":"nominal","scale":{"domain":["HepG2","HepG2+Cetux","HepG2+Iso","PLC","PLC+Cetux","PLC+Iso"],"range":["circle","circle","circle","square","square","square"]},"legend":null}}},
   {"mark":{"type":"errorbar","extent":"stderr","ticks":true,"size":11,"thickness":1.5,"opacity":0.8},"encoding":{"color":{"field":"g","type":"nominal","scale":{"domain":["HepG2","HepG2+Cetux","HepG2+Iso","PLC","PLC+Cetux","PLC+Iso"],"range":["#000000","#b31ee6","#19c219","#000000","#c266dd","#19c219"]},"legend":null}}},
   {"mark":{"type":"tick","size":20,"thickness":2.2},"encoding":{"y":{"aggregate":"mean","field":"v","type":"quantitative","title":"%CD107a Expression","scale":{"domain":[0,80],"nice":false},"axis":{"values":[0,20,40,60,80]}},"color":{"condition":{"test":"datum.g === 'PLC'","value":"#2e1470"},"field":"g","type":"nominal","scale":{"domain":["HepG2","HepG2+Cetux","HepG2+Iso","PLC","PLC+Cetux","PLC+Iso"],"range":["#000000","#b31ee6","#19c219","#000000","#c266dd","#19c219"]},"legend":null}}}
  ]},
 {"data":{"values":[{"t":"Condition 3"}]},
  "encoding":{"x":{"datum":0.112,"type":"quantitative","scale":{"domain":[0,1],"nice":false,"zero":false},"axis":null},"y":{"datum":80.9,"type":"quantitative","scale":{"domain":[0,80],"nice":false,"zero":false},"axis":null}},
  "layer":[
   {"mark":{"type":"rect","fill":"#ffffff","stroke":"#cccccc","strokeWidth":1},"encoding":{"x2":{"datum":0.995},"y2":{"datum":98.6}}},
   {"mark":{"type":"text","font":"Liberation Sans","fontSize":29,"align":"left","baseline":"middle","color":"#000000"},"encoding":{"x":{"datum":0.173,"type":"quantitative","axis":null},"y":{"datum":89.75,"type":"quantitative","axis":null},"text":{"field":"t"}}},
   {"mark":{"type":"text","text":"(iii)","font":"Liberation Sans","fontWeight":"bold","fontSize":28,"align":"left","baseline":"middle","color":"#000000"},"encoding":{"x":{"datum":-0.168,"type":"quantitative","axis":null},"y":{"datum":94.2,"type":"quantitative","axis":null}}}
  ]}
]},
{"width":214,"height":213,"resolve":{"scale":{"x":"independent","y":"independent"}},"layer":[
 {"data":{"name":"pts"},"transform":[{"filter":"datum.c === 'Condition 3' && datum.m === 'IFNg'"}],
  "encoding":{"x":{"field":"g","type":"nominal","scale":{"type":"band","domain":["HepG2","HepG2+Cetux","HepG2+Iso","PLC","PLC+Cetux","PLC+Iso"],"paddingInner":0.42,"paddingOuter":0.32},"axis":{"title":null}},
   "y":{"field":"v","type":"quantitative","title":"%IFNg Expression","scale":{"domain":[0,80],"nice":false},"axis":{"values":[0,20,40,60,80]}}},
  "layer":[
   {"mark":{"type":"point","filled":true,"size":80,"opacity":1},"encoding":{"xOffset":{"field":"r","type":"nominal","scale":{"domain":["a","b","c"],"paddingInner":0,"paddingOuter":0}},"color":{"field":"g","type":"nominal","scale":{"domain":["HepG2","HepG2+Cetux","HepG2+Iso","PLC","PLC+Cetux","PLC+Iso"],"range":["#000000","#b31ee6","#19c219","#000000","#c266dd","#19c219"]},"legend":null},"shape":{"field":"g","type":"nominal","scale":{"domain":["HepG2","HepG2+Cetux","HepG2+Iso","PLC","PLC+Cetux","PLC+Iso"],"range":["circle","circle","circle","square","square","square"]},"legend":null}}},
   {"mark":{"type":"errorbar","extent":"stderr","ticks":true,"size":11,"thickness":1.5,"opacity":0.8},"encoding":{"color":{"field":"g","type":"nominal","scale":{"domain":["HepG2","HepG2+Cetux","HepG2+Iso","PLC","PLC+Cetux","PLC+Iso"],"range":["#000000","#b31ee6","#19c219","#000000","#c266dd","#19c219"]},"legend":null}}},
   {"mark":{"type":"tick","size":20,"thickness":2.2},"encoding":{"y":{"aggregate":"mean","field":"v","type":"quantitative","title":"%IFNg Expression","scale":{"domain":[0,80],"nice":false},"axis":{"values":[0,20,40,60,80]}},"color":{"condition":{"test":"datum.g === 'PLC'","value":"#2e1470"},"field":"g","type":"nominal","scale":{"domain":["HepG2","HepG2+Cetux","HepG2+Iso","PLC","PLC+Cetux","PLC+Iso"],"range":["#000000","#b31ee6","#19c219","#000000","#c266dd","#19c219"]},"legend":null}}}
  ]},
 {"data":{"values":[{"t":"Condition 3"}]},
  "encoding":{"x":{"datum":0.101,"type":"quantitative","scale":{"domain":[0,1],"nice":false,"zero":false},"axis":null},"y":{"datum":80.9,"type":"quantitative","scale":{"domain":[0,80],"nice":false,"zero":false},"axis":null}},
  "layer":[
   {"mark":{"type":"rect","fill":"#ffffff","stroke":"#cccccc","strokeWidth":1},"encoding":{"x2":{"datum":0.983},"y2":{"datum":98.6}}},
   {"mark":{"type":"text","font":"Liberation Sans","fontSize":29,"align":"left","baseline":"middle","color":"#000000"},"encoding":{"x":{"datum":0.162,"type":"quantitative","axis":null},"y":{"datum":89.75,"type":"quantitative","axis":null},"text":{"field":"t"}}}
  ]}
]},
{"width":214,"height":213,"resolve":{"scale":{"x":"independent","y":"independent"}},"layer":[
 {"data":{"name":"pts"},"transform":[{"filter":"datum.c === 'Condition 3' && datum.m === 'TNFa'"}],
  "encoding":{"x":{"field":"g","type":"nominal","scale":{"type":"band","domain":["HepG2","HepG2+Cetux","HepG2+Iso","PLC","PLC+Cetux","PLC+Iso"],"paddingInner":0.42,"paddingOuter":0.32},"axis":{"title":null}},
   "y":{"field":"v","type":"quantitative","title":"% TNFa Expression","scale":{"domain":[0,80],"nice":false},"axis":{"values":[0,20,40,60,80]}}},
  "layer":[
   {"mark":{"type":"point","filled":true,"size":80,"opacity":1},"encoding":{"xOffset":{"field":"r","type":"nominal","scale":{"domain":["a","b","c"],"paddingInner":0,"paddingOuter":0}},"color":{"field":"g","type":"nominal","scale":{"domain":["HepG2","HepG2+Cetux","HepG2+Iso","PLC","PLC+Cetux","PLC+Iso"],"range":["#000000","#b31ee6","#19c219","#000000","#c266dd","#19c219"]},"legend":null},"shape":{"field":"g","type":"nominal","scale":{"domain":["HepG2","HepG2+Cetux","HepG2+Iso","PLC","PLC+Cetux","PLC+Iso"],"range":["circle","circle","circle","square","square","square"]},"legend":null}}},
   {"mark":{"type":"errorbar","extent":"stderr","ticks":true,"size":11,"thickness":1.5,"opacity":0.8},"encoding":{"color":{"field":"g","type":"nominal","scale":{"domain":["HepG2","HepG2+Cetux","HepG2+Iso","PLC","PLC+Cetux","PLC+Iso"],"range":["#000000","#b31ee6","#19c219","#000000","#c266dd","#19c219"]},"legend":null}}},
   {"mark":{"type":"tick","size":20,"thickness":2.2},"encoding":{"y":{"aggregate":"mean","field":"v","type":"quantitative","title":"% TNFa Expression","scale":{"domain":[0,80],"nice":false},"axis":{"values":[0,20,40,60,80]}},"color":{"condition":{"test":"datum.g === 'PLC'","value":"#2e1470"},"field":"g","type":"nominal","scale":{"domain":["HepG2","HepG2+Cetux","HepG2+Iso","PLC","PLC+Cetux","PLC+Iso"],"range":["#000000","#b31ee6","#19c219","#000000","#c266dd","#19c219"]},"legend":null}}}
  ]},
 {"data":{"values":[{"t":"Condition 3"}]},
  "encoding":{"x":{"datum":0.109,"type":"quantitative","scale":{"domain":[0,1],"nice":false,"zero":false},"axis":null},"y":{"datum":80.9,"type":"quantitative","scale":{"domain":[0,80],"nice":false,"zero":false},"axis":null}},
  "layer":[
   {"mark":{"type":"rect","fill":"#ffffff","stroke":"#cccccc","strokeWidth":1},"encoding":{"x2":{"datum":0.994},"y2":{"datum":98.6}}},
   {"mark":{"type":"text","font":"Liberation Sans","fontSize":29,"align":"left","baseline":"middle","color":"#000000"},"encoding":{"x":{"datum":0.17,"type":"quantitative","axis":null},"y":{"datum":89.75,"type":"quantitative","axis":null},"text":{"field":"t"}}}
  ]}
]},
{"width":214,"height":211,"resolve":{"scale":{"x":"independent","y":"independent"}},"layer":[
 {"data":{"name":"pts"},"transform":[{"filter":"datum.c === 'Condition 12' && datum.m === 'CD107a'"}],
  "encoding":{"x":{"field":"g","type":"nominal","scale":{"type":"band","domain":["HepG2","HepG2+Cetux","HepG2+Iso","PLC","PLC+Cetux","PLC+Iso"],"paddingInner":0.42,"paddingOuter":0.32},"axis":{"title":null}},
   "y":{"field":"v","type":"quantitative","title":"%CD107a Expression","scale":{"domain":[0,80],"nice":false},"axis":{"values":[0,20,40,60,80]}}},
  "layer":[
   {"mark":{"type":"point","filled":true,"size":80,"opacity":1},"encoding":{"xOffset":{"field":"r","type":"nominal","scale":{"domain":["a","b","c"],"paddingInner":0,"paddingOuter":0}},"color":{"field":"g","type":"nominal","scale":{"domain":["HepG2","HepG2+Cetux","HepG2+Iso","PLC","PLC+Cetux","PLC+Iso"],"range":["#000000","#b31ee6","#19c219","#000000","#c266dd","#19c219"]},"legend":null},"shape":{"field":"g","type":"nominal","scale":{"domain":["HepG2","HepG2+Cetux","HepG2+Iso","PLC","PLC+Cetux","PLC+Iso"],"range":["circle","circle","circle","square","square","square"]},"legend":null}}},
   {"mark":{"type":"errorbar","extent":"stderr","ticks":true,"size":11,"thickness":1.5,"opacity":0.8},"encoding":{"color":{"field":"g","type":"nominal","scale":{"domain":["HepG2","HepG2+Cetux","HepG2+Iso","PLC","PLC+Cetux","PLC+Iso"],"range":["#000000","#b31ee6","#19c219","#000000","#c266dd","#19c219"]},"legend":null}}},
   {"mark":{"type":"tick","size":20,"thickness":2.2},"encoding":{"y":{"aggregate":"mean","field":"v","type":"quantitative","title":"%CD107a Expression","scale":{"domain":[0,80],"nice":false},"axis":{"values":[0,20,40,60,80]}},"color":{"condition":{"test":"datum.g === 'PLC'","value":"#2e1470"},"field":"g","type":"nominal","scale":{"domain":["HepG2","HepG2+Cetux","HepG2+Iso","PLC","PLC+Cetux","PLC+Iso"],"range":["#000000","#b31ee6","#19c219","#000000","#c266dd","#19c219"]},"legend":null}}}
  ]},
 {"data":{"values":[{"t":"Condition 12"}]},
  "encoding":{"x":{"datum":0.064,"type":"quantitative","scale":{"domain":[0,1],"nice":false,"zero":false},"axis":null},"y":{"datum":78.5,"type":"quantitative","scale":{"domain":[0,80],"nice":false,"zero":false},"axis":null}},
  "layer":[
   {"mark":{"type":"rect","fill":"#ffffff","stroke":"#cccccc","strokeWidth":1},"encoding":{"x2":{"datum":0.994},"y2":{"datum":96.5}}},
   {"mark":{"type":"text","font":"Liberation Sans","fontSize":29,"align":"left","baseline":"middle","color":"#000000"},"encoding":{"x":{"datum":0.125,"type":"quantitative","axis":null},"y":{"datum":87.5,"type":"quantitative","axis":null},"text":{"field":"t"}}},
   {"mark":{"type":"text","text":"(iv)","font":"Liberation Sans","fontWeight":"bold","fontSize":28,"align":"left","baseline":"middle","color":"#000000"},"encoding":{"x":{"datum":-0.168,"type":"quantitative","axis":null},"y":{"datum":91.5,"type":"quantitative","axis":null}}}
  ]}
]},
{"width":214,"height":211,"resolve":{"scale":{"x":"independent","y":"independent"}},"layer":[
 {"data":{"name":"pts"},"transform":[{"filter":"datum.c === 'Condition 12' && datum.m === 'IFNg'"}],
  "encoding":{"x":{"field":"g","type":"nominal","scale":{"type":"band","domain":["HepG2","HepG2+Cetux","HepG2+Iso","PLC","PLC+Cetux","PLC+Iso"],"paddingInner":0.42,"paddingOuter":0.32},"axis":{"title":null}},
   "y":{"field":"v","type":"quantitative","title":"%IFNg Expression","scale":{"domain":[0,80],"nice":false},"axis":{"values":[0,20,40,60,80]}}},
  "layer":[
   {"mark":{"type":"point","filled":true,"size":80,"opacity":1},"encoding":{"xOffset":{"field":"r","type":"nominal","scale":{"domain":["a","b","c"],"paddingInner":0,"paddingOuter":0}},"color":{"field":"g","type":"nominal","scale":{"domain":["HepG2","HepG2+Cetux","HepG2+Iso","PLC","PLC+Cetux","PLC+Iso"],"range":["#000000","#b31ee6","#19c219","#000000","#c266dd","#19c219"]},"legend":null},"shape":{"field":"g","type":"nominal","scale":{"domain":["HepG2","HepG2+Cetux","HepG2+Iso","PLC","PLC+Cetux","PLC+Iso"],"range":["circle","circle","circle","square","square","square"]},"legend":null}}},
   {"mark":{"type":"errorbar","extent":"stderr","ticks":true,"size":11,"thickness":1.5,"opacity":0.8},"encoding":{"color":{"field":"g","type":"nominal","scale":{"domain":["HepG2","HepG2+Cetux","HepG2+Iso","PLC","PLC+Cetux","PLC+Iso"],"range":["#000000","#b31ee6","#19c219","#000000","#c266dd","#19c219"]},"legend":null}}},
   {"mark":{"type":"tick","size":20,"thickness":2.2},"encoding":{"y":{"aggregate":"mean","field":"v","type":"quantitative","title":"%IFNg Expression","scale":{"domain":[0,80],"nice":false},"axis":{"values":[0,20,40,60,80]}},"color":{"condition":{"test":"datum.g === 'PLC'","value":"#2e1470"},"field":"g","type":"nominal","scale":{"domain":["HepG2","HepG2+Cetux","HepG2+Iso","PLC","PLC+Cetux","PLC+Iso"],"range":["#000000","#b31ee6","#19c219","#000000","#c266dd","#19c219"]},"legend":null}}}
  ]},
 {"data":{"values":[{"t":"Condition 12"}]},
  "encoding":{"x":{"datum":0.059,"type":"quantitative","scale":{"domain":[0,1],"nice":false,"zero":false},"axis":null},"y":{"datum":78.5,"type":"quantitative","scale":{"domain":[0,80],"nice":false,"zero":false},"axis":null}},
  "layer":[
   {"mark":{"type":"rect","fill":"#ffffff","stroke":"#cccccc","strokeWidth":1},"encoding":{"x2":{"datum":0.981},"y2":{"datum":96.5}}},
   {"mark":{"type":"text","font":"Liberation Sans","fontSize":29,"align":"left","baseline":"middle","color":"#000000"},"encoding":{"x":{"datum":0.12,"type":"quantitative","axis":null},"y":{"datum":87.5,"type":"quantitative","axis":null},"text":{"field":"t"}}}
  ]}
]},
{"width":214,"height":211,"resolve":{"scale":{"x":"independent","y":"independent"}},"layer":[
 {"data":{"name":"pts"},"transform":[{"filter":"datum.c === 'Condition 12' && datum.m === 'TNFa'"}],
  "encoding":{"x":{"field":"g","type":"nominal","scale":{"type":"band","domain":["HepG2","HepG2+Cetux","HepG2+Iso","PLC","PLC+Cetux","PLC+Iso"],"paddingInner":0.42,"paddingOuter":0.32},"axis":{"title":null}},
   "y":{"field":"v","type":"quantitative","title":"% TNFa Expression","scale":{"domain":[0,80],"nice":false},"axis":{"values":[0,20,40,60,80]}}},
  "layer":[
   {"mark":{"type":"point","filled":true,"size":80,"opacity":1},"encoding":{"xOffset":{"field":"r","type":"nominal","scale":{"domain":["a","b","c"],"paddingInner":0,"paddingOuter":0}},"color":{"field":"g","type":"nominal","scale":{"domain":["HepG2","HepG2+Cetux","HepG2+Iso","PLC","PLC+Cetux","PLC+Iso"],"range":["#000000","#b31ee6","#19c219","#000000","#c266dd","#19c219"]},"legend":null},"shape":{"field":"g","type":"nominal","scale":{"domain":["HepG2","HepG2+Cetux","HepG2+Iso","PLC","PLC+Cetux","PLC+Iso"],"range":["circle","circle","circle","square","square","square"]},"legend":null}}},
   {"mark":{"type":"errorbar","extent":"stderr","ticks":true,"size":11,"thickness":1.5,"opacity":0.8},"encoding":{"color":{"field":"g","type":"nominal","scale":{"domain":["HepG2","HepG2+Cetux","HepG2+Iso","PLC","PLC+Cetux","PLC+Iso"],"range":["#000000","#b31ee6","#19c219","#000000","#c266dd","#19c219"]},"legend":null}}},
   {"mark":{"type":"tick","size":20,"thickness":2.2},"encoding":{"y":{"aggregate":"mean","field":"v","type":"quantitative","title":"% TNFa Expression","scale":{"domain":[0,80],"nice":false},"axis":{"values":[0,20,40,60,80]}},"color":{"condition":{"test":"datum.g === 'PLC'","value":"#2e1470"},"field":"g","type":"nominal","scale":{"domain":["HepG2","HepG2+Cetux","HepG2+Iso","PLC","PLC+Cetux","PLC+Iso"],"range":["#000000","#b31ee6","#19c219","#000000","#c266dd","#19c219"]},"legend":null}}}
  ]},
 {"data":{"values":[{"t":"Condition 12"}]},
  "encoding":{"x":{"datum":0.064,"type":"quantitative","scale":{"domain":[0,1],"nice":false,"zero":false},"axis":null},"y":{"datum":78.5,"type":"quantitative","scale":{"domain":[0,80],"nice":false,"zero":false},"axis":null}},
  "layer":[
   {"mark":{"type":"rect","fill":"#ffffff","stroke":"#cccccc","strokeWidth":1},"encoding":{"x2":{"datum":1.0},"y2":{"datum":96.5}}},
   {"mark":{"type":"text","font":"Liberation Sans","fontSize":29,"align":"left","baseline":"middle","color":"#000000"},"encoding":{"x":{"datum":0.125,"type":"quantitative","axis":null},"y":{"datum":87.5,"type":"quantitative","axis":null},"text":{"field":"t"}}}
  ]}
]}
],
"config": {
 "view": {"stroke": null},
 "font": "Liberation Sans",
 "axis": {"grid": false, "domainColor": "#000000", "domainWidth": 2, "tickColor": "#000000", "tickWidth": 2, "labelColor": "#000000", "labelFont": "DejaVu Sans", "labelFontWeight": "bold", "titleFont": "DejaVu Sans", "titleFontWeight": "bold", "titleColor": "#000000"},
 "axisX": {"labelFontSize": 14, "tickSize": 8, "labelAngle": -40, "labelPadding": 2},
 "axisY": {"labelFontSize": 16, "tickSize": 5, "labelPadding": 2, "titleFontSize": 15, "titlePadding": 7}
}
}
